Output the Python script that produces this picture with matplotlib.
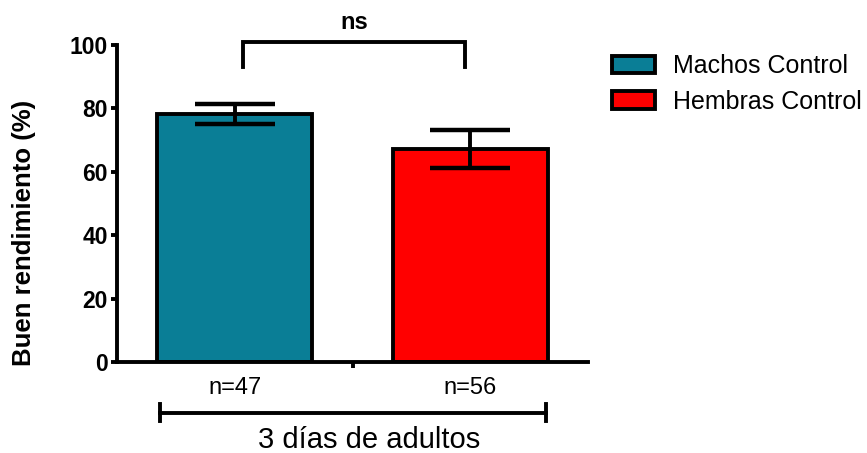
import matplotlib
matplotlib.use("Agg")
import matplotlib.pyplot as plt
from matplotlib.patches import Patch

plt.rcParams['font.family'] = ['Liberation Sans', 'DejaVu Sans']

groups = ["Machos Control", "Hembras Control"]
means = [78.2, 67.2]
errs = [3.2, 6.0]
colors = ["#0A7E96", "#FF0000"]
n_labels = ["n=47", "n=56"]
yticks = [0, 20, 40, 60, 80, 100]
ylabel = "Buen rendimiento (%)"
xlabel = "3 días de adultos"
sig_text = "ns"

LW = 2.8

fig = plt.figure(figsize=(8.67, 4.53), dpi=100)
ax = fig.add_axes([117/867, 1-362/453, (588-117)/867, (362-45)/453])

x = [0, 1]
ax.bar(x, means, width=0.66, color=colors, edgecolor="black", linewidth=LW, zorder=2)
ax.errorbar(x, means, yerr=errs, fmt="none", ecolor="black", elinewidth=LW,
            capsize=28.5, capthick=LW + 0.4, zorder=3)

ax.set_xlim(-0.5, 1.5)
ax.set_ylim(0, 100)
ax.set_yticks(yticks)
ax.set_yticklabels([str(t) for t in yticks], fontsize=16.5, fontweight="bold")
ax.set_xticks([0.5])
ax.set_xticklabels([""])
ax.tick_params(axis="both", width=LW, length=4.5, direction="out", pad=2)
for s in ["top", "right"]:
    ax.spines[s].set_visible(False)
for s in ["left", "bottom"]:
    ax.spines[s].set_linewidth(LW)
    ax.spines[s].set_capstyle("projecting")
ax.set_ylabel(ylabel, fontsize=18.5, fontweight="bold")
ax.yaxis.set_label_coords(-0.172, 0.407)

# significance bracket
ax.plot([0.035, 0.035, 0.978, 0.978], [93, 100.9, 100.9, 93], color="black",
        lw=LW, clip_on=False, solid_joinstyle="miter")
ax.text(0.5065, 103.5, sig_text, ha="center", va="bottom", fontsize=17,
        fontweight="bold")

# n labels
for xi, nl in zip(x, n_labels):
    ax.text(xi, -8.3, nl, ha="center", va="center", fontsize=17)

# group bracket beneath
xl, xr = -0.318, 1.322
ax.plot([xl, xr], [-16, -16], color="black", lw=LW, clip_on=False)
for xe in [xl, xr]:
    ax.plot([xe, xe], [-13.3, -18.7], color="black", lw=LW, clip_on=False)
ax.text(0.57, -24.6, xlabel, ha="center", va="center", fontsize=21)

handles = [Patch(facecolor=c, edgecolor="black", linewidth=LW) for c in colors]
fig.legend(handles, groups, loc="upper left", bbox_to_anchor=(612/867, 1-54/453),
           frameon=False, fontsize=18, handlelength=1.72, handleheight=0.7,
           handletextpad=0.72, labelspacing=0.47, borderpad=0, borderaxespad=0)

fig.savefig("out.png", dpi=100)
